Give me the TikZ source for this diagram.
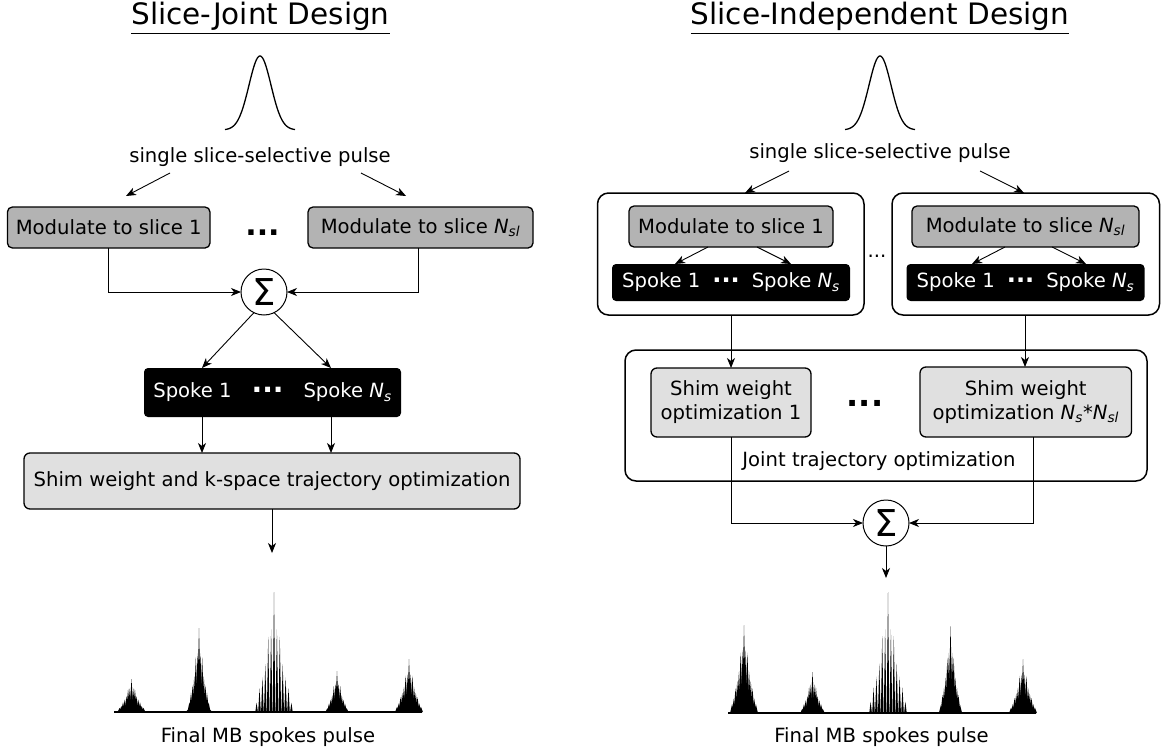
\documentclass[tikz,border=0pt]{standalone}
\usepackage{fontspec}
\setmainfont{DejaVu Sans}
\usetikzlibrary{arrows.meta,calc}

\definecolor{modgray}{HTML}{B3B3B3}
\definecolor{shimgray}{HTML}{E0E0E0}

\newcommand\bodyfont{\fontsize{19.6}{24}\selectfont}
\newcommand\titlefont{\fontsize{29.5}{34}\selectfont}
\newcommand\sigmafont{\fontsize{37}{40}\selectfont}
\newcommand\bigdots[1]{{\fontsize{#1}{#1}\selectfont\bfseries...}}
\newcommand\Nsub[1]{\textit{N}\textsubscript{\textit{#1}}}

% one band of the multiband spokes pulse: spikes under a tapered envelope
% #1 centre x, #2 peak height, #3 half width, #4 spike spacing,
% #5 baseline y, #6 half base of one spike
\newcommand\mbpeak[6]{%
  \pgfmathtruncatemacro\kmax{#3/#4}%
  \pgfmathtruncatemacro\kmin{-#3/#4}%
  \foreach \k in {\kmin,...,\kmax}{%
    \pgfmathsetmacro\px{#1+\k*#4}%
    \pgfmathsetmacro\ph{#2*(0.7*max(0,1-abs(\k*#4)/#3)^0.9+0.3*exp(-((\k*#4)/(#3/3))^2))*(0.9+0.1*cos(\k*157))}%
    \fill (\px-#6,#5) -- (\px,#5-\ph) -- (\px+#6,#5) -- cycle;
  }%
}

\tikzset{
  every node/.style={inner sep=0pt, outer sep=0pt, font=\bodyfont},
  conn/.style={line width=0.9pt, -{Stealth[length=10pt,width=8pt,inset=3pt]}},
  modbox/.style={draw, line width=1.3pt, fill=modgray, rounded corners=5pt, minimum height=41pt},
  spokebox/.style={fill=black, text=white, rounded corners=4pt},
  shimbox/.style={draw, line width=1.3pt, fill=shimgray, rounded corners=6pt, align=center},
  groupbox/.style={draw, line width=1.5pt, rounded corners=11pt},
  sumnode/.style={circle, draw, line width=1pt, minimum size=46pt, font=\sigmafont},
  pulsecurve/.style={line width=1.3pt},
  underline/.style={line width=1.3pt},
  baseline/.style={line width=1.4pt},
}

\begin{document}
\begin{tikzpicture}[x=1pt,y=-1pt]
\path[fill=white] (0,0) rectangle (1164,752);
\useasboundingbox (0,0) rectangle (1164,752);

% ================= slice-joint design =================
\node[font=\titlefont, anchor=base] (titleL) at (260.5,25) {Slice-Joint Design};
\draw[underline] ([yshift=-8.3pt]titleL.base west) -- ([yshift=-8.3pt]titleL.base east);

\draw[pulsecurve] plot[domain=-35:35, samples=90, smooth] ({260+\x},{130-74*exp(-(\x/11)^2/2)});
\node (lblL) at (260,157) {single slice-selective pulse};

\coordinate (aL1s) at (170,173); \coordinate (aL1e) at (126,196);
\coordinate (aL2s) at (361,173); \coordinate (aL2e) at (406,196);
\draw[conn] (aL1s) -- (aL1e);
\draw[conn] (aL2s) -- (aL2e);

\node[modbox, minimum width=202.6pt] (modL1) at (108.7,227.5) {Modulate to slice 1};
\node[modbox, minimum width=225pt] (modL2) at (420.5,227.5) {Modulate to slice \Nsub{sl}};
\node[anchor=base] (dotsL1) at (262.5,235) {\bigdots{30}};

\node[sumnode] (sumL) at (264,292) {Σ};
\coordinate (xL2) at (418,0);
\draw[conn] (modL1.south) |- (sumL.west);
\draw[conn] (modL2.south -| xL2) |- (sumL.east);

\node[spokebox, minimum width=257pt, minimum height=49pt] (spokesL) at (272.5,392.5)
  {Spoke 1\hspace{20pt}\raisebox{5.5pt}{\bigdots{28}}\hspace{20pt}Spoke \Nsub{s}};
\coordinate (xS1) at (202,0); \coordinate (xS2) at (331,0);
\draw[conn] (sumL.244) -- (spokesL.north -| xS1);
\draw[conn] (sumL.296) -- (spokesL.north -| xS2);

\node[shimbox, minimum width=496pt, minimum height=56pt] (shimL) at (272,481)
  {Shim weight and k-space trajectory optimization};
\draw[conn] (spokesL.south -| xS1) -- (shimL.north -| xS1);
\draw[conn] (spokesL.south -| xS2) -- (shimL.north -| xS2);

\coordinate (outL) at (272,553);
\draw[conn] (shimL.south -| outL) -- (outL);

\draw[baseline] (114,712) -- (422,712);
\mbpeak{131.5}{33}{14}{1.7}{712}{2.0}
\mbpeak{199}{84}{11.5}{1.6}{712}{2.0}
\mbpeak{274}{120}{19.5}{2.9}{712}{1.3}
\mbpeak{337}{41}{11}{1.6}{712}{2.0}
\mbpeak{409}{53}{13.5}{1.7}{712}{2.0}
\node (finL) at (268,737) {Final MB spokes pulse};

% ================= slice-independent design =================
\node[font=\titlefont, anchor=base] (titleR) at (880,25) {Slice-Independent Design};
\draw[underline] ([yshift=-8.3pt]titleR.base west) -- ([yshift=-8.3pt]titleR.base east);

\draw[pulsecurve] plot[domain=-35:35, samples=90, smooth] ({880+\x},{130-74*exp(-(\x/11)^2/2)});
\node (lblR) at (880,153) {single slice-selective pulse};

\node[groupbox, minimum width=266.5pt, minimum height=122pt] (grpR1) at (730.75,254) {};
\node[groupbox, minimum width=267.5pt, minimum height=122pt] (grpR2) at (1025.75,254) {};
\node[anchor=base] (dotsR1) at (877,257) {...};

\coordinate (aR1s) at (789,171); \coordinate (aR1e) at (745,0);
\coordinate (aR2s) at (980,171); \coordinate (aR2e) at (1024,0);
\draw[conn] (aR1s) -- (grpR1.north -| aR1e);
\draw[conn] (aR2s) -- (grpR2.north -| aR2e);

\node[modbox, minimum width=204pt] (modR1) at (731,226.5) {Modulate to slice 1};
\node[modbox, minimum width=227pt] (modR2) at (1025.5,226.5) {Modulate to slice \Nsub{sl}};

\node[spokebox, minimum width=238pt, minimum height=37pt] (spkR1) at (731,282.5)
  {Spoke 1\hspace{12pt}\raisebox{5.5pt}{\bigdots{24}}\hspace{12pt}Spoke \Nsub{s}};
\node[spokebox, minimum width=238pt, minimum height=37pt] (spkR2) at (1025.5,282.5)
  {Spoke 1\hspace{12pt}\raisebox{5.5pt}{\bigdots{24}}\hspace{12pt}Spoke \Nsub{s}};

\coordinate (m1a) at (708,0); \coordinate (s1a) at (675,0);
\coordinate (m1b) at (757,0); \coordinate (s1b) at (791,0);
\coordinate (m2a) at (1005,0); \coordinate (s2a) at (972,0);
\coordinate (m2b) at (1052,0); \coordinate (s2b) at (1086,0);
\draw[conn] (modR1.south -| m1a) -- (spkR1.north -| s1a);
\draw[conn] (modR1.south -| m1b) -- (spkR1.north -| s1b);
\draw[conn] (modR2.south -| m2a) -- (spkR2.north -| s2a);
\draw[conn] (modR2.south -| m2b) -- (spkR2.north -| s2b);

\node[groupbox, minimum width=522pt, minimum height=131pt] (joint) at (886,415.5) {};
\node[shimbox, minimum width=160pt, minimum height=69pt] (shimR1) at (731,402.5)
  {Shim weight\\optimization 1};
\node[shimbox, minimum width=211.5pt, minimum height=70pt] (shimR2) at (1025.75,402)
  {Shim weight\\optimization \Nsub{s}*\Nsub{sl}};
\node[anchor=base] (dotsR2) at (865,406) {\bigdots{32}};
\node (jlbl) at (879,461) {Joint trajectory optimization};

\coordinate (xR1) at (731,0); \coordinate (xR2) at (1025,0); \coordinate (xR3) at (1033,0);
\draw[conn] (grpR1.south -| xR1) -- (shimR1.north -| xR1);
\draw[conn] (grpR2.south -| xR2) -- (shimR2.north -| xR2);

\node[sumnode] (sumR) at (886,523) {Σ};
\draw[conn] (shimR1.south -| xR1) |- (sumR.west);
\draw[conn] (shimR2.south -| xR3) |- (sumR.east);
\coordinate (outR) at (886,578);
\draw[conn] (sumR.south) -- (outR);

\draw[baseline] (728,713) -- (1036,713);
\mbpeak{744}{88}{13.5}{1.7}{713}{2.0}
\mbpeak{812.5}{41}{12}{1.7}{713}{2.0}
\mbpeak{888}{121}{20}{2.9}{713}{1.3}
\mbpeak{950.5}{87}{11}{1.6}{713}{2.0}
\mbpeak{1023}{54}{13.5}{1.7}{713}{2.0}
\node (finR) at (881.5,737) {Final MB spokes pulse};
\end{tikzpicture}
\end{document}
